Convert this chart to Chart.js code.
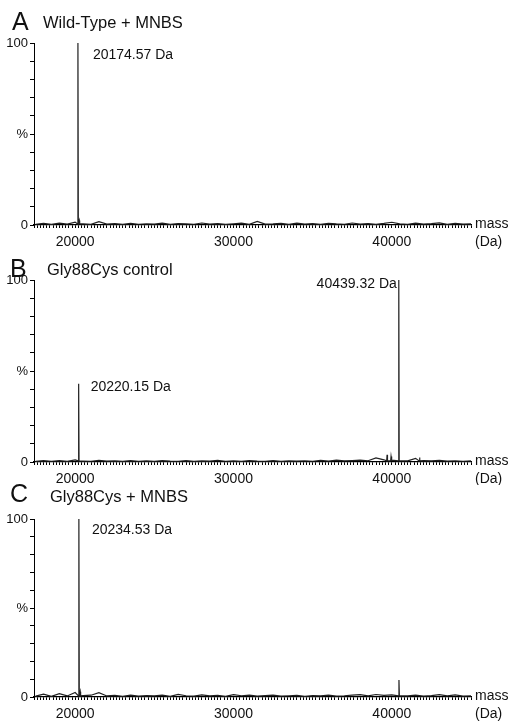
<!DOCTYPE html>
<html>
<head>
<meta charset="utf-8">
<script src="https://cdn.jsdelivr.net/npm/chart.js@4/dist/chart.umd.min.js"></script>
<style>
  html, body { margin: 0; padding: 0; background: #fff; }
  body { width: 518px; height: 728px; position: relative; overflow: hidden; }
  canvas { position: absolute; left: 0; }
</style>
</head>
<body>
<canvas id="panelA" width="518" height="250" style="top:0px"></canvas>
<canvas id="panelB" width="518" height="237" style="top:248px"></canvas>
<canvas id="panelC" width="518" height="248" style="top:480px"></canvas>
<script>
// mass grid for the baseline noise (Da)
const baseMass = [17500, 18000, 18500, 19000, 19500, 20000, 20500, 21000, 21500, 22000,
  22500, 23000, 23500, 24000, 24500, 25000, 25500, 26000, 26500, 27000,
  27500, 28000, 28500, 29000, 29500, 30000, 30500, 31000, 31500, 32000,
  32500, 33000, 33500, 34000, 34500, 35000, 35500, 36000, 36500, 37000,
  37500, 38000, 38500, 39000, 39500, 40000, 40500, 41000, 41500, 42000,
  42500, 43000, 43500, 44000, 44500, 45000];

// baseline intensity (%)
const noiseA = [0.4, 0.9, 0.3, 1.0, 0.5, 1.6, 0.6, 0.4, 1.8, 0.5,
  0.8, 0.3, 0.9, 0.4, 0.7, 0.5, 1.0, 0.3, 0.8, 0.6,
  0.4, 1.1, 0.5, 0.8, 0.3, 0.7, 1.0, 0.4, 2.0, 0.5,
  0.6, 0.9, 0.4, 1.0, 0.5, 0.8, 0.3, 0.9, 0.6, 0.4,
  1.1, 0.5, 0.8, 0.4, 0.9, 1.5, 0.6, 0.4, 1.0, 0.5,
  0.8, 1.2, 0.4, 0.9, 0.5, 0.6];
const noiseB = [0.3, 0.7, 0.4, 0.8, 0.3, 1.2, 0.5, 0.4, 0.9, 0.5,
  0.6, 0.3, 0.8, 0.4, 0.6, 0.3, 0.7, 0.5, 0.4, 0.8,
  0.3, 0.6, 0.5, 0.9, 0.4, 0.6, 0.3, 0.7, 0.5, 0.4,
  0.8, 0.3, 0.6, 0.5, 0.7, 0.4, 0.9, 0.5, 1.0, 0.6,
  0.8, 1.0, 0.7, 2.2, 1.2, 1.0, 0.8, 0.6, 2.0, 0.8,
  0.6, 0.9, 0.5, 0.7, 0.4, 0.6];
const noiseC = [0.5, 1.6, 0.4, 1.9, 0.6, 2.5, 0.8, 1.0, 2.4, 0.6,
  0.9, 0.4, 1.0, 0.5, 0.8, 0.6, 1.1, 0.4, 1.5, 0.7,
  0.5, 1.2, 0.6, 0.9, 0.4, 1.3, 0.7, 1.0, 0.5, 0.8,
  1.1, 0.5, 0.7, 0.9, 0.4, 0.8, 0.6, 1.0, 0.5, 0.7,
  1.0, 1.3, 0.6, 1.4, 0.9, 1.2, 0.7, 0.6, 1.1, 0.5,
  0.8, 1.3, 0.6, 1.2, 0.5, 0.7];

// peaks: mass (Da) and relative intensity (%)
const peakMassA = [20174.57, 20260];
const peakHeightA = [100, 2.5];
const peakMassB = [20220.15, 39700, 39950, 40439.32, 41750];
const peakHeightB = [43, 4, 3, 100, 2.5];
const peakMassC = [20234.53, 20320, 40450];
const peakHeightC = [100, 3, 9.5];

const xMin = 17400, xMax = 45000;
const xLabelled = [20000, 30000, 40000];
const FONT = '"Liberation Sans", Arial, Helvetica, sans-serif';

function buildPoints(noise, pm, ph) {
  const pts = baseMass.map((m, i) => ({ x: m, y: noise[i] }));
  pm.forEach((m, i) => { pts.push({ x: m - 25, y: 0.6 }, { x: m, y: ph[i] }, { x: m + 25, y: 0.6 }); });
  return pts.sort((a, b) => a.x - b.x);
}

const panelText = {
  id: 'panelText',
  afterDraw(chart, args, o) {
    const { ctx, chartArea, scales } = chart;
    ctx.save();
    ctx.fillStyle = '#111';
    ctx.textBaseline = 'alphabetic';
    ctx.textAlign = 'left';
    ctx.font = '25px ' + FONT;
    ctx.fillText(o.letter, o.letterX, o.letterY);
    ctx.font = '16.5px ' + FONT;
    ctx.fillText(o.title, o.titleX, o.titleY);
    ctx.font = '14px ' + FONT;
    ctx.textBaseline = 'middle';
    o.labels.forEach(l => {
      ctx.textAlign = l.align;
      ctx.fillText(l.mass.toFixed(2) + ' Da', scales.x.getPixelForValue(l.mass) + l.dx, scales.y.getPixelForValue(l.at));
    });
    ctx.textAlign = 'left';
    ctx.fillText('mass', chartArea.right + 4, chartArea.bottom - 1);
    ctx.fillText('(Da)', chartArea.right + 4, chartArea.bottom + 17);
    ctx.restore();
  }
};

function makePanel(id, points, top, axisH, text) {
  new Chart(document.getElementById(id), {
    type: 'line',
    data: { datasets: [{ data: points, borderColor: '#222', borderWidth: 1.2, pointRadius: 0, tension: 0 }] },
    options: {
      responsive: false, animation: false, devicePixelRatio: 1,
      layout: { padding: { top: top, right: 47, left: 0, bottom: 0 } },
      plugins: { legend: { display: false }, tooltip: { enabled: false }, panelText: text },
      scales: {
        x: {
          type: 'linear', min: xMin, max: xMax,
          border: { color: '#000', width: 1.3 },
          grid: { drawOnChartArea: false, tickLength: 3, color: '#000' },
          ticks: { stepSize: 200, autoSkip: false, maxRotation: 0, padding: 6, color: '#111',
            font: { family: FONT, size: 14 },
            callback: v => xLabelled.includes(v) ? String(v) : '' },
          afterFit: s => { s.height = axisH; }
        },
        y: {
          min: 0, max: 100,
          border: { color: '#000', width: 1 },
          grid: { drawOnChartArea: false, tickLength: 4, color: '#000' },
          ticks: { stepSize: 10, autoSkip: false, padding: 2, color: '#111',
            font: { family: FONT, size: 13 },
            callback: v => v === 0 ? '0' : v === 50 ? '%' : v === 100 ? '100' : '' },
          afterFit: s => { s.width = 34; }
        }
      }
    },
    plugins: [panelText]
  });
}

makePanel('panelA', buildPoints(noiseA, peakMassA, peakHeightA), 43, 25, {
  letter: 'A', letterX: 12, letterY: 30, title: 'Wild-Type + MNBS', titleX: 43, titleY: 28,
  labels: [{ mass: peakMassA[0], at: 93.4, dx: 15, align: 'left' }]
});
makePanel('panelB', buildPoints(noiseB, peakMassB, peakHeightB), 32, 23, {
  letter: 'B', letterX: 10, letterY: 29, title: 'Gly88Cys control', titleX: 47, titleY: 27,
  labels: [{ mass: peakMassB[0], at: 41, dx: 12, align: 'left' },
           { mass: peakMassB[3], at: 97.8, dx: -2, align: 'right' }]
});
makePanel('panelC', buildPoints(noiseC, peakMassC, peakHeightC), 39, 31, {
  letter: 'C', letterX: 10, letterY: 22, title: 'Gly88Cys + MNBS', titleX: 50, titleY: 22,
  labels: [{ mass: peakMassC[0], at: 93.8, dx: 13, align: 'left' }]
});
</script>
</body>
</html>
